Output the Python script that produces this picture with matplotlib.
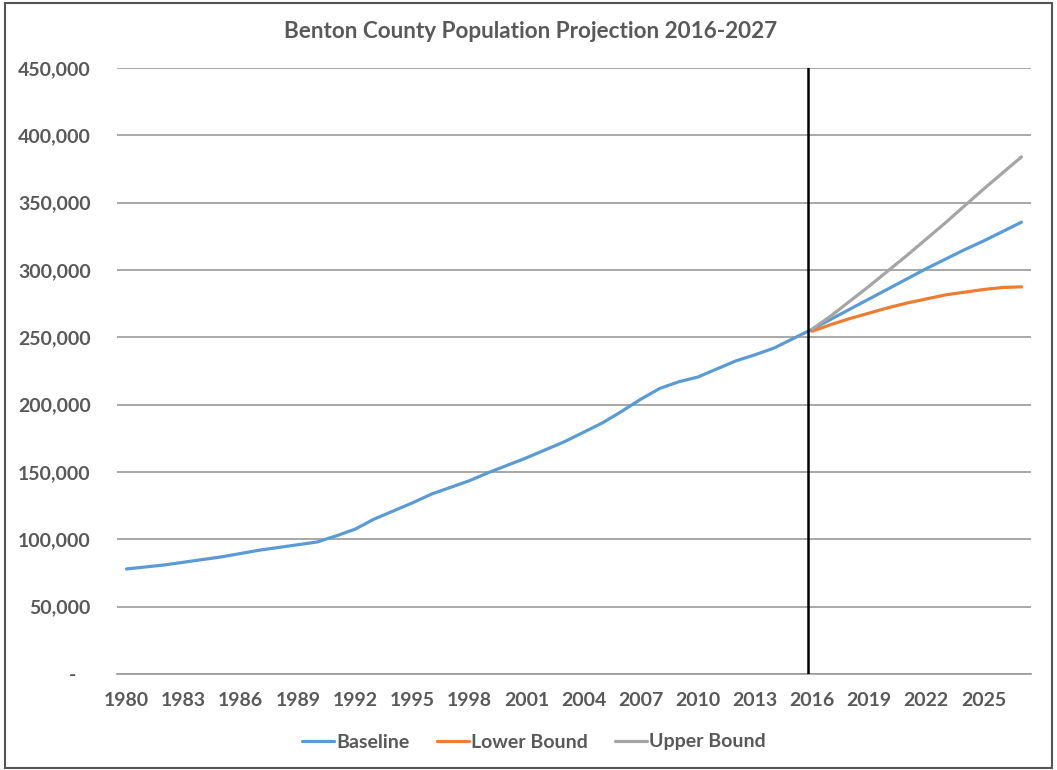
import matplotlib
matplotlib.use("Agg")
import matplotlib.pyplot as plt
import numpy as np
from matplotlib.patches import Rectangle

years = list(range(1980, 2028))

baseline = [78000, 79500, 81000, 83000, 85000, 87000, 89500, 92000, 94000, 96000,
            98000, 102500, 107500, 115000, 121000, 127000, 133500, 138500, 143500, 149500,
            155000, 160500, 166500, 172500, 179500, 186500, 195000, 204000, 212000, 217000,
            220500, 226500, 232500, 237000, 242000, 249000, 256000,
            263500, 271000, 278500, 286000, 293500, 301000, 308000, 315000, 321500, 328500, 335500]

proj_years = list(range(2016, 2028))
lower_bound = [254500, 259500, 264000, 268000, 272000, 275500, 278500, 281500, 283500, 285500, 287000, 287500]
upper_bound = [256000, 266000, 277000, 288000, 299500, 311000, 323000, 335000, 347500, 360000, 372000, 384000]

y_ticks = [0, 50000, 100000, 150000, 200000, 250000, 300000, 350000, 400000, 450000]
title = "Benton County Population Projection 2016-2027"
divider_year = 2016

plt.rcParams['font.family'] = ['Lato', 'DejaVu Sans']
text_color = '#595959'
grid_color = '#9a9a9a'

fig = plt.figure(figsize=(10.57, 7.70), dpi=100)
fig.patch.set_facecolor('white')
fig.patches.append(Rectangle((5 / 1057, 2 / 770), 1047 / 1057, 765 / 770, transform=fig.transFigure,
                             fill=False, edgecolor='#555555', linewidth=1.5))

ax = fig.add_axes([117 / 1057, 1 - 674 / 770, (1031 - 117) / 1057, (674 - 68) / 770])

x = np.arange(len(years))
xp = np.array([years.index(y) for y in proj_years])

ax.plot(x, baseline, color='#5B9BD5', lw=2.3, label='Baseline', zorder=3, solid_capstyle='round')
ax.plot(xp, lower_bound, color='#ED7D31', lw=2.3, label='Lower Bound', zorder=3, solid_capstyle='round')
ax.plot(xp, upper_bound, color='#A5A5A5', lw=2.3, label='Upper Bound', zorder=3, solid_capstyle='round')

ax.axvline(years.index(divider_year) - 0.2, color='black', lw=1.8, zorder=4)

ax.set_xlim(-0.5, len(years) - 0.5)
ax.set_ylim(0, 450000)
ax.set_yticks(y_ticks)
ax.set_yticklabels(['-   ' if v == 0 else f"{v:,}" for v in y_ticks])
xt = [i for i, y in enumerate(years) if (y - 1980) % 3 == 0]
ax.set_xticks(xt)
ax.set_xticklabels([str(years[i]) for i in xt])

ax.grid(axis='y', color=grid_color, lw=1.2, zorder=1)
ax.set_axisbelow(True)
for s in ['top', 'right', 'left']:
    ax.spines[s].set_visible(False)
ax.spines['bottom'].set_color(grid_color)
ax.spines['bottom'].set_linewidth(1.2)
ax.tick_params(axis='both', length=0, labelsize=14, colors=text_color)
ax.tick_params(axis='y', pad=19)
ax.tick_params(axis='x', pad=13)
for lab in ax.get_xticklabels() + ax.get_yticklabels():
    lab.set_fontweight('bold')

fig.text(531 / 1057, 1 - 31 / 770, title, ha='center', va='center', fontsize=16.2,
         fontweight='bold', color=text_color)

leg = fig.legend(loc='center', bbox_to_anchor=(534 / 1057, 1 - 742 / 770), ncol=3, frameon=False,
                 fontsize=14, handlelength=1.65, handletextpad=0.1, columnspacing=1.4)
for t in leg.get_texts():
    t.set_color(text_color)
    t.set_fontweight('bold')

fig.savefig('out.png', dpi=100)
